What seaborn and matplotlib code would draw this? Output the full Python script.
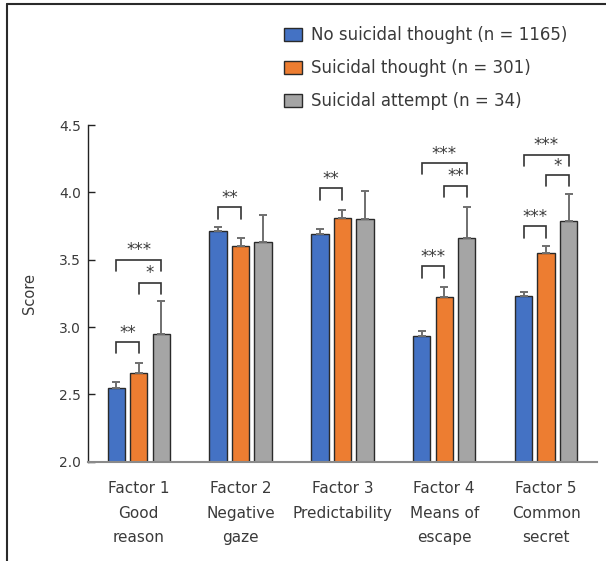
import matplotlib
matplotlib.use("Agg")
import matplotlib.pyplot as plt
from matplotlib.lines import Line2D
import seaborn as sns
import pandas as pd
import numpy as np

factors = ["Factor 1\nGood\nreason", "Factor 2\nNegative\ngaze", "Factor 3\nPredictability",
           "Factor 4\nMeans of\nescape", "Factor 5\nCommon\nsecret"]
groups = ["No suicidal thought (n = 1165)", "Suicidal thought (n = 301)", "Suicidal attempt (n = 34)"]
means_none = [2.55, 3.71, 3.69, 2.93, 3.23]
means_thought = [2.66, 3.60, 3.81, 3.22, 3.55]
means_attempt = [2.95, 3.63, 3.80, 3.66, 3.79]
err_none = [0.04, 0.03, 0.04, 0.04, 0.03]
err_thought = [0.07, 0.06, 0.06, 0.08, 0.05]
err_attempt = [0.24, 0.20, 0.21, 0.23, 0.20]
colors = ["#4472C4", "#ED7D31", "#A5A5A5"]

# significance brackets: (factor index, group a, group b, bracket height, label)
sig_factor = [0, 0, 0, 1, 2, 3, 3, 3, 4, 4, 4]
sig_a = [0, 1, 0, 0, 0, 0, 1, 0, 0, 1, 0]
sig_b = [1, 2, 2, 1, 1, 1, 2, 2, 1, 2, 2]
sig_h = [2.89, 3.33, 3.50, 3.89, 4.03, 3.45, 4.05, 4.22, 3.75, 4.13, 4.28]
sig_lab = ["**", "*", "***", "**", "**", "***", "**", "***", "***", "*", "***"]

df = pd.DataFrame({
    "factor": factors * 3,
    "group": [groups[0]] * 5 + [groups[1]] * 5 + [groups[2]] * 5,
    "score": means_none + means_thought + means_attempt,
})
errs = [err_none, err_thought, err_attempt]

sns.set_style("white")
plt.rcParams["font.family"] = ["DejaVu Sans"]
text_col = "#3a3a3a"

fig = plt.figure(figsize=(6.06, 5.61), dpi=100)
ax = fig.add_axes([0.145, 0.177, 0.84, 0.600])

sns.barplot(data=df, x="factor", y="score", hue="group", hue_order=groups,
            palette=colors, saturation=1, errorbar=None, width=0.663, gap=0.23,
            edgecolor="#2a2a2a", linewidth=1.0, ax=ax)

# error bars (upper only)
bar_conts = list(ax.containers)
centers = []
for ci, cont in enumerate(bar_conts):
    xs = [p.get_x() + p.get_width() / 2 for p in cont.patches]
    ys = [p.get_height() + p.get_y() for p in cont.patches]
    centers.append(xs)
    ax.errorbar(xs, ys, yerr=[np.zeros(len(xs)), errs[ci]], fmt="none",
                ecolor="#6f6f6f", elinewidth=1.4, capsize=2.8, capthick=1.4, zorder=3)

leg_drop = 0.085
for f, a, b, h, lab in zip(sig_factor, sig_a, sig_b, sig_h, sig_lab):
    xa = centers[a][f]
    xb = centers[b][f]
    ax.plot([xa, xa, xb, xb], [h - leg_drop, h, h, h - leg_drop], color="#333333", lw=1.2,
            solid_joinstyle="miter", zorder=4)
    ax.text((xa + xb) / 2, h + 0.002, lab, ha="center", va="bottom", fontsize=12,
            color=text_col)

ax.set_ylim(2.0, 4.5)
ax.set_xlim(-0.5, 4.5)
ax.set_yticks([2.0, 2.5, 3.0, 3.5, 4.0, 4.5])
ax.set_yticklabels(["2.0", "2.5", "3.0", "3.5", "4.0", "4.5"])
ax.set_ylabel("Score", fontsize=10.5, color=text_col, labelpad=16)
ax.set_xlabel("")
ax.tick_params(axis="y", direction="in", length=5, width=1, colors="#222222",
               labelsize=10, labelcolor=text_col, pad=5, left=True)
ax.tick_params(axis="x", length=0, labelsize=11, labelcolor=text_col, pad=14)
for lbl in ax.get_xticklabels():
    lbl.set_linespacing(1.78)

for s in ["top", "right"]:
    ax.spines[s].set_visible(False)
ax.spines["left"].set_color("#222222")
ax.spines["left"].set_linewidth(1.0)
ax.spines["bottom"].set_color("#8a8a8a")
ax.spines["bottom"].set_linewidth(1.5)

handles, labels = ax.get_legend_handles_labels()
ax.legend(handles, labels, loc="upper left", bbox_to_anchor=(0.468, 0.953),
          bbox_transform=fig.transFigure, frameon=False, fontsize=12,
          handlelength=1.1, handleheight=0.82, handletextpad=0.55,
          labelspacing=0.9, borderpad=0, borderaxespad=0, labelcolor=text_col)

# outer frame lines (top and left)
fig.add_artist(Line2D([0.0115, 1.0], [0.993, 0.993], transform=fig.transFigure,
                      color="#2a2a2a", lw=1.5))
fig.add_artist(Line2D([0.0115, 0.0115], [0.0, 0.993], transform=fig.transFigure,
                      color="#2a2a2a", lw=1.5))

fig.savefig("out.png", dpi=100)
